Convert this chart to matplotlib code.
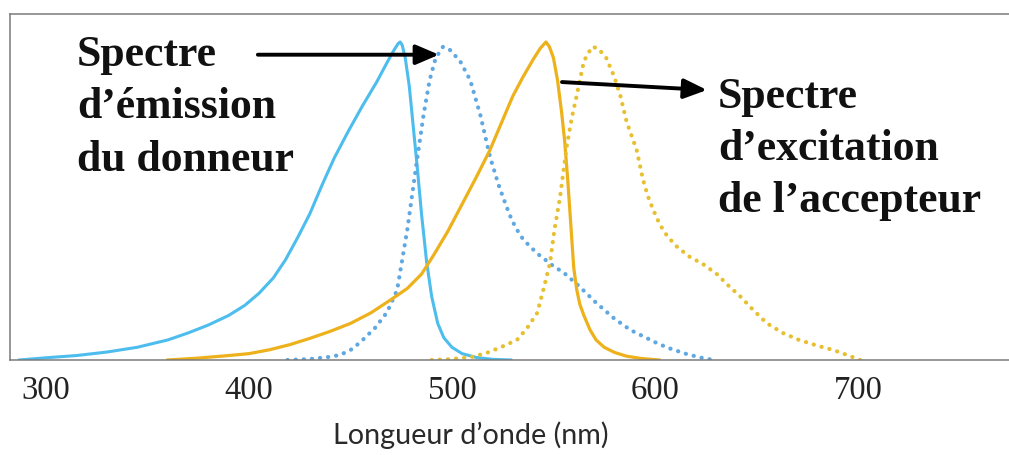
import numpy as np
import matplotlib.pyplot as plt

# spectre d'emission du donneur (trait plein bleu)
don_em_nm = [287, 300, 315, 330, 345, 360, 370, 380, 390, 398, 405, 412, 418, 424, 430, 436,
             442, 449, 456, 463, 468, 471.5, 473.5, 474.5, 475.5, 477, 479, 481, 483, 485,
             487.5, 490, 493, 496, 500, 505, 512, 520, 529]
don_em_y = [0, 0.007, 0.014, 0.025, 0.04, 0.063, 0.085, 0.11, 0.14, 0.172, 0.21, 0.258, 0.315, 0.385,
            0.46, 0.55, 0.635, 0.72, 0.80, 0.875, 0.935, 0.975, 0.995, 1.0, 0.99, 0.95, 0.86, 0.73,
            0.6, 0.46, 0.31, 0.2, 0.115, 0.07, 0.04, 0.02, 0.008, 0.002, 0]

# spectre pointille bleu
don_ex_nm = [419, 430, 440, 445, 451, 456, 462, 468, 473, 478, 482.6, 486, 489, 492, 495.6,
             499, 504, 509, 514, 518.7, 523, 527, 529.5, 532, 535, 538, 542, 546, 550, 555,
             563, 571, 580, 588, 595, 601, 607, 615, 622, 629]
don_ex_y = [0, 0.003, 0.01, 0.016, 0.035, 0.063, 0.10, 0.15, 0.22, 0.41, 0.62, 0.77, 0.88, 0.95, 0.985,
            0.975, 0.94, 0.88, 0.77, 0.64, 0.55, 0.48, 0.44, 0.41, 0.38, 0.36, 0.335, 0.315, 0.295,
            0.275, 0.23, 0.18, 0.13, 0.094, 0.072, 0.053, 0.037, 0.02, 0.008, 0]

# spectre d'excitation de l'accepteur (trait plein jaune)
acc_ex_nm = [360, 375, 390, 400, 410, 420, 430, 440, 450, 460, 470, 478, 485, 491, 498, 505,
             512, 518.7, 524, 530, 535, 540, 543.5, 546.3, 548, 550, 552, 554, 555.5, 557,
             558.5, 560, 561.5, 563, 565, 568, 571, 575, 580, 586, 593, 602]
acc_ex_y = [0, 0.006, 0.014, 0.02, 0.032, 0.048, 0.068, 0.09, 0.115, 0.148, 0.19, 0.225, 0.27, 0.33,
            0.405, 0.49, 0.575, 0.66, 0.74, 0.83, 0.89, 0.945, 0.98, 1.0, 0.985, 0.95, 0.88, 0.78,
            0.69, 0.57, 0.43, 0.29, 0.22, 0.175, 0.14, 0.095, 0.063, 0.04, 0.024, 0.012, 0.005, 0]

# spectre pointille jaune
acc_em_nm = [490, 500, 510, 517, 524, 532, 537, 542, 545, 548.3, 550.5, 553.2, 556.5, 559, 561.4,
             565, 569, 572, 576, 580, 583, 586, 591, 594, 596.5, 599, 601, 603, 606, 611, 617, 624,
             630.5, 636, 642, 648, 655, 663, 671, 680, 688, 695, 701]
acc_em_y = [0, 0.003, 0.01, 0.022, 0.04, 0.063, 0.1, 0.148, 0.22, 0.305, 0.41, 0.51, 0.67, 0.76, 0.83,
            0.94, 0.985, 0.98, 0.95, 0.89, 0.83, 0.75, 0.66, 0.57, 0.515, 0.475, 0.445, 0.42, 0.39,
            0.355, 0.325, 0.30, 0.27, 0.235, 0.20, 0.16, 0.116, 0.085, 0.063, 0.045, 0.031, 0.015, 0]

xticks = [300, 400, 500, 600, 700]

blue = '#4dbdee'
blue_dot = '#5fa8e2'
yellow = '#edb11c'
yellow_dot = '#e6c030'

fig = plt.figure(figsize=(10.09, 4.55), dpi=100)
ax = fig.add_axes([10 / 1009, 1 - 360 / 455, 1 - 10 / 1009, 346 / 455])

ax.plot(don_em_nm, don_em_y, color=blue, lw=2.2, solid_joinstyle='round')
ax.plot(don_ex_nm, don_ex_y, color=blue_dot, lw=3.0, linestyle=(0, (0.05, 1.9)),
        dash_capstyle='round')
ax.plot(acc_ex_nm, acc_ex_y, color=yellow, lw=2.3, solid_joinstyle='round')
ax.plot(acc_em_nm, acc_em_y, color=yellow_dot, lw=3.0, linestyle=(0, (0.05, 1.9)),
        dash_capstyle='round')

ax.set_xlim(282.3, 774.4)
ax.set_ylim(0, 1.088)
ax.set_yticks([])
ax.set_xticks(xticks)
ax.set_xticklabels([str(t) for t in xticks], family='Liberation Serif', fontsize=23.5, color='#222222')
ax.tick_params(axis='x', length=0, pad=11)

for s in ['left', 'top', 'bottom']:
    ax.spines[s].set_color('#7a7a7a')
    ax.spines[s].set_linewidth(1.1)
ax.spines['right'].set_visible(False)

ax.set_xlabel("Longueur d\u2019onde (nm)", family='Lato', fontsize=20.7, color='#2a2a2a')
ax.xaxis.set_label_coords(0.4615, -0.178)

tkw = dict(family='Liberation Serif', fontweight='bold', fontsize=31.5, color='#111111', va='baseline')
for txt, yy in zip(["Spectre", "d\u2019\u00e9mission", "du donneur"], [0.925, 0.761, 0.594]):
    ax.text(315.3, yy, txt, **tkw)
for txt, yy in zip(["Spectre", "d\u2019excitation", "de l\u2019accepteur"], [0.792, 0.629, 0.465]):
    ax.text(631.0, yy, txt, **tkw)

akw = dict(arrowstyle='-|>,head_length=0.7,head_width=0.3', color='black', lw=2.8,
           shrinkA=0, shrinkB=0, mutation_scale=20)
ax.annotate('', xy=(493.6, 0.96), xytext=(404.4, 0.96), arrowprops=akw)
ax.annotate('', xy=(625.6, 0.849), xytext=(554.2, 0.874), arrowprops=akw)

fig.savefig('out.png', dpi=100, facecolor='white')
